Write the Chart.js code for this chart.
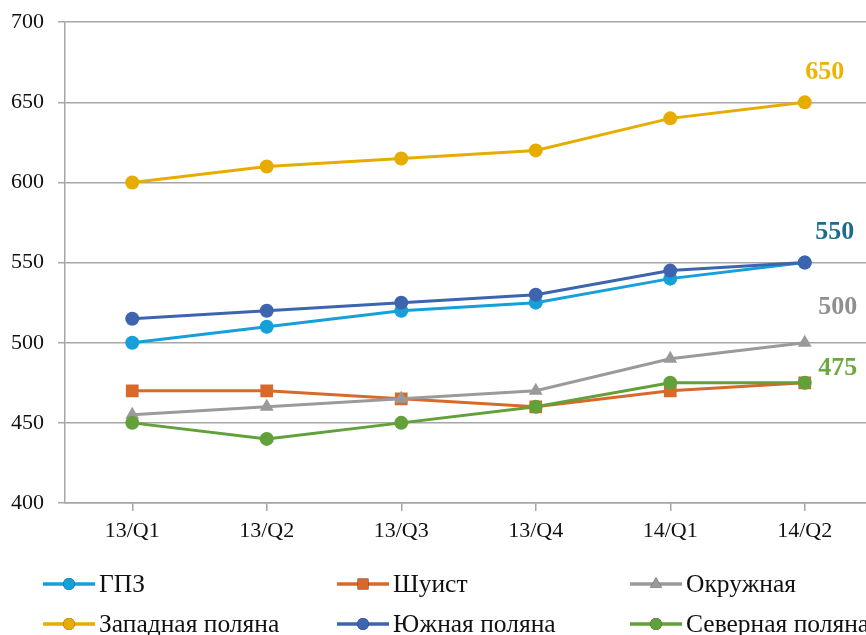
<!DOCTYPE html>
<html>
<head>
<meta charset="utf-8">
<script src="https://cdn.jsdelivr.net/npm/chart.js@4.4.1/dist/chart.umd.min.js"></script>
<style>
  html, body { margin: 0; padding: 0; background: #ffffff; overflow: hidden; }
  #wrap { width: 881px; height: 645px; margin-top: -5px; }
</style>
</head>
<body>
<div id="wrap"><canvas id="chart" width="881" height="645"></canvas></div>
<script>
// Quarterly values per field
const quarters = ['13/Q1', '13/Q2', '13/Q3', '13/Q4', '14/Q1', '14/Q2'];
const yTicks = [400, 450, 500, 550, 600, 650, 700];

const gpz      = [500, 510, 520, 525, 540, 550];
const shuist   = [470, 470, 465, 460, 470, 475];
const okruzh   = [455, 460, 465, 470, 490, 500];
const zapadn   = [600, 610, 615, 620, 640, 650];
const yuzhn    = [515, 520, 525, 530, 545, 550];
const severn   = [450, 440, 450, 460, 475, 475];

const seriesNames = ['ГПЗ', 'Шуист', 'Окружная', 'Западная поляна', 'Южная поляна', 'Северная поляна'];
const seriesData = [gpz, shuist, okruzh, zapadn, yuzhn, severn];
const seriesColors = ['#16A0DA', '#D9692A', '#9A9A9A', '#E7AC00', '#3D64AE', '#62A03C'];
const seriesMarkers = ['circle', 'rect', 'triangle', 'circle', 'circle', 'circle'];

// Series whose final value is annotated, with label colour
const labelledSeries = [3, 4, 2, 5];
const labelColors = ['#EFB200', '#1E6B8C', '#8F8F8F', '#6CA83F'];

const FONT = '"Liberation Serif", "Times New Roman", serif';

function markerRadius(style) {
  if (style === 'rect') return 9;
  if (style === 'triangle') return 8;
  return 7;
}

const datasets = seriesData.map((values, i) => ({
  label: seriesNames[i],
  data: values,
  borderColor: seriesColors[i],
  backgroundColor: seriesColors[i],
  borderWidth: 3,
  pointStyle: seriesMarkers[i],
  pointRadius: markerRadius(seriesMarkers[i]),
  pointBorderWidth: 0,
  pointHoverRadius: markerRadius(seriesMarkers[i]),
  tension: 0,
  order: seriesData.length - i
}));

// End-of-line value annotations
const endLabels = {
  id: 'endLabels',
  afterDatasetsDraw(chart) {
    const ctx = chart.ctx;
    const offsets = [[20, -30], [30, -30], [33, -35], [33, -15]];
    ctx.save();
    ctx.font = 'bold 26px ' + FONT;
    ctx.textAlign = 'center';
    ctx.textBaseline = 'middle';
    labelledSeries.forEach((si, k) => {
      const meta = chart.getDatasetMeta(si);
      const last = meta.data.length - 1;
      const pt = meta.data[last];
      ctx.fillStyle = labelColors[k];
      ctx.fillText(String(seriesData[si][last]), pt.x + offsets[k][0], pt.y + offsets[k][1]);
    });
    ctx.restore();
  }
};

// Three-column legend under the axis
const gridLegend = {
  id: 'gridLegend',
  afterDraw(chart) {
    const ctx = chart.ctx;
    const colX = [43, 337, 630];
    const rowY = [589, 629];
    const lineLen = 52;
    ctx.save();
    ctx.font = '25.5px ' + FONT;
    ctx.textBaseline = 'middle';
    ctx.textAlign = 'left';
    seriesNames.forEach((name, i) => {
      const x = colX[i % 3];
      const y = rowY[Math.floor(i / 3)];
      ctx.strokeStyle = seriesColors[i];
      ctx.lineWidth = 3.5;
      ctx.beginPath();
      ctx.moveTo(x, y);
      ctx.lineTo(x + lineLen, y);
      ctx.stroke();
      Chart.helpers.drawPoint(ctx, {
        pointStyle: seriesMarkers[i],
        radius: markerRadius(seriesMarkers[i]) * 0.85,
        rotation: 0,
        borderWidth: 0
      }, x + lineLen / 2, y);
      ctx.fillStyle = seriesColors[i];
      ctx.fill();
      ctx.fillStyle = '#111111';
      ctx.fillText(name, x + lineLen + 4, y + 1);
    });
    ctx.restore();
  }
};

new Chart(document.getElementById('chart'), {
  type: 'line',
  data: { labels: quarters, datasets },
  options: {
    responsive: false,
    animation: false,
    events: [],
    layout: { padding: { top: 17, right: 0, bottom: 85, left: 0 } },
    plugins: { legend: { display: false }, tooltip: { enabled: false } },
    scales: {
      x: {
        offset: true,
        border: { display: true, color: '#A6A6A6', width: 1.5 },
        grid: { display: true, drawOnChartArea: false, drawTicks: true, tickLength: 8, color: '#A6A6A6', lineWidth: 1.5 },
        ticks: { color: '#111111', font: { family: FONT, size: 22 }, padding: 7, maxRotation: 0 },
        afterFit(scale) { scale.height = 52; }
      },
      y: {
        min: yTicks[0],
        max: yTicks[yTicks.length - 1],
        afterBuildTicks(scale) { scale.ticks = yTicks.map(v => ({ value: v })); },
        border: { display: true, color: '#A6A6A6', width: 1.5 },
        grid: { color: '#A6A6A6', lineWidth: 1.5, drawTicks: true, tickLength: 7 },
        ticks: { color: '#111111', font: { family: FONT, size: 22 }, padding: 14 },
        afterFit(scale) { scale.width = 65; }
      }
    }
  },
  plugins: [endLabels, gridLegend]
});
</script>
</body>
</html>
